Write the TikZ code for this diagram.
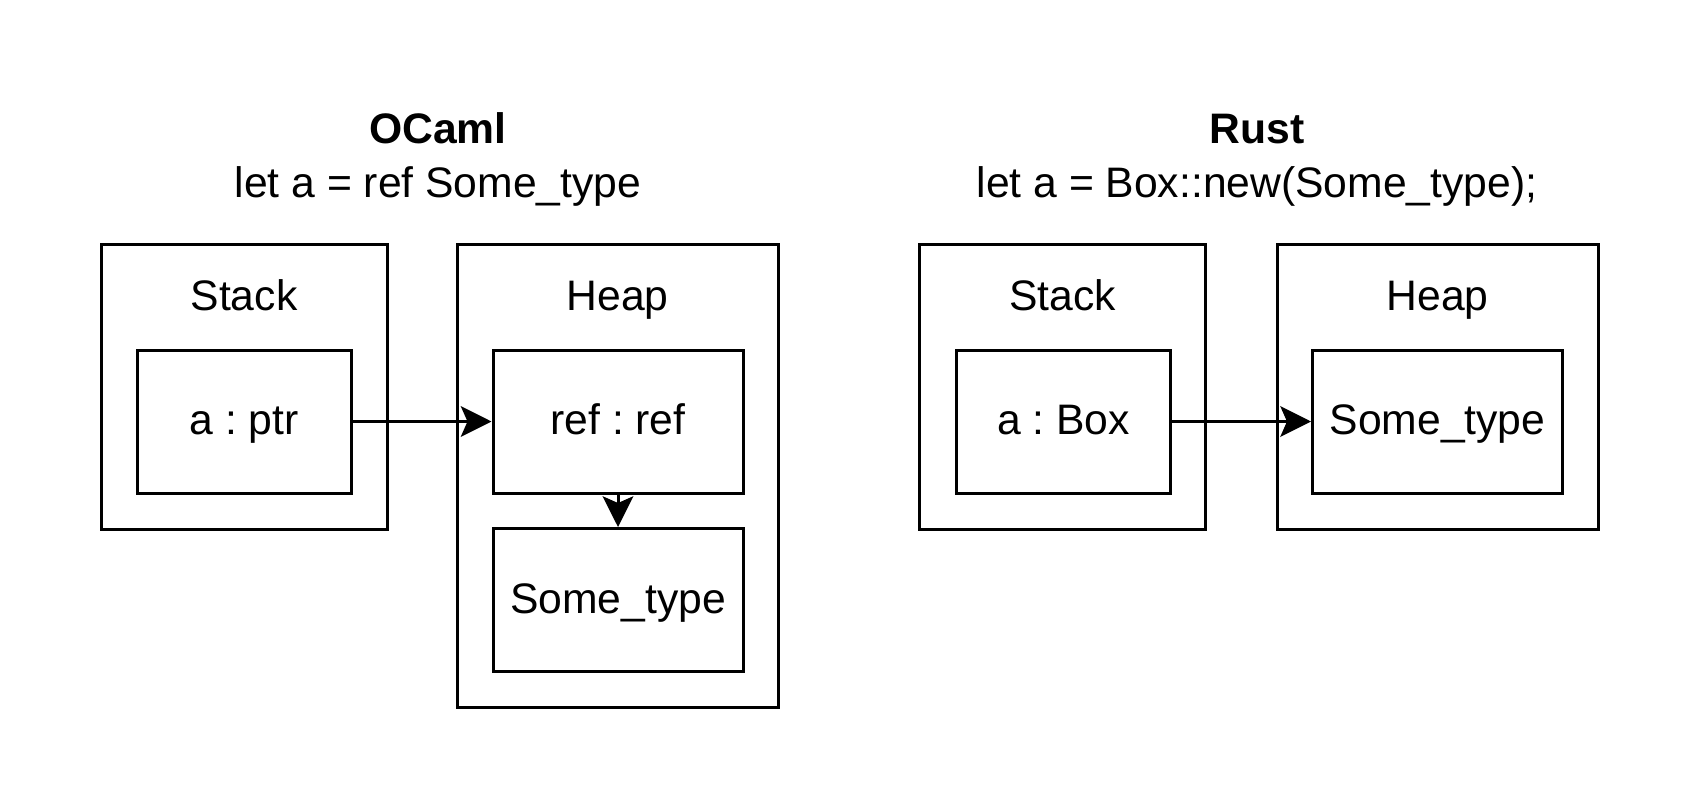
\documentclass[tikz,border=0pt]{standalone}
\usepackage{fontspec}
\setmainfont{Liberation Sans}
\usepackage{tikz}
\usetikzlibrary{arrows.meta}
\frenchspacing

\begin{document}
\begin{tikzpicture}[x=0.75pt, y=-0.75pt,
    every node/.style={font=\fontsize{32}{38}\selectfont, inner sep=0pt},
    frame/.style={draw, line width=2.25pt, minimum width=214.5pt, minimum height=213.75pt},
    cell/.style={draw, line width=2.25pt, minimum height=107.25pt, text height=23pt, text depth=3.2pt},
    ptr/.style={line width=2.25pt, -{Stealth[length=23pt, width=23pt, inset=5pt]}}]
    % Fix the page size
    \useasboundingbox (0,0) rectangle (1700,810);

    % Titles
    \node[anchor=base, font=\fontsize{32}{38}\selectfont\bfseries] (ocamltitle) at (438,143) {OCaml};
    \node[anchor=base] (ocamlcode) at (438,197) {let a = ref Some\_type};
    \node[anchor=base, font=\fontsize{32}{38}\selectfont\bfseries] (rusttitle) at (1257,143) {Rust};
    \node[anchor=base] (rustcode) at (1257,197) {let a = Box::new(Some\_type);};

    % OCaml side
    \node[frame] (stackL) at (244,386.5) {};
    \node[frame, minimum width=240.75pt, minimum height=347.25pt] (heapL) at (617.5,475.5) {};
    \node[anchor=base] (stackLlab) at (244,310) {Stack};
    \node[anchor=base] (heapLlab) at (617.5,310) {Heap};
    \node[cell, minimum width=160.5pt] (aptr) at (244,421.5) {a : ptr};
    \node[cell, minimum width=187.5pt] (refref) at (618,421.5) {ref : ref};
    \node[cell, minimum width=187.5pt] (someL) at (618,600) {Some\_type};

    % Rust side
    \node[frame] (stackR) at (1062.5,386.5) {};
    \node[frame, minimum width=240.75pt] (heapR) at (1437.5,386.5) {};
    \node[anchor=base] (stackRlab) at (1062.5,310) {Stack};
    \node[anchor=base] (heapRlab) at (1437.5,310) {Heap};
    \node[cell, minimum width=160.5pt] (abox) at (1063.5,421.5) {a : Box};
    \node[cell, minimum width=187.5pt] (someR) at (1437.5,421.5) {Some\_type};

    % Draw arrows
    \draw[ptr] (aptr) -- (refref);
    \draw[ptr] (refref) -- (someL);
    \draw[ptr] (abox) -- (someR);
\end{tikzpicture}
\end{document}
